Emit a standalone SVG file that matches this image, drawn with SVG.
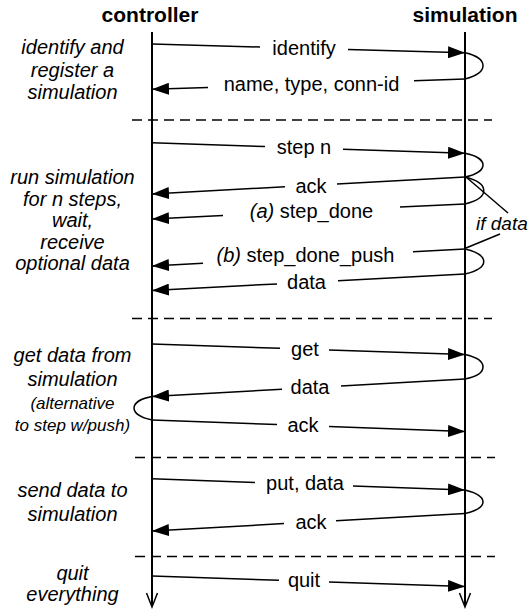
<svg xmlns="http://www.w3.org/2000/svg" width="529" height="610" viewBox="0 0 529 610">
  <style>
    .head { font-family: "Liberation Sans", Arial, sans-serif; font-weight: bold; font-size: 21px; fill: #000; text-anchor: middle; }
    .note { font-family: "Liberation Sans", Arial, sans-serif; font-style: italic; font-size: 20px; fill: #000; text-anchor: middle; }
    .small { font-size: 17px; }
    .msg { font-family: "Liberation Sans", Arial, sans-serif; font-size: 20px; fill: #000; text-anchor: middle; }
    .it { font-style: italic; }
    .life { stroke: #000; stroke-width: 2; fill: none; }
    .line { stroke: #000; stroke-width: 1.5; fill: none; }
    .arrow { stroke: #000; stroke-width: 1.5; fill: none; marker-end: url(#head); }
    .sep { stroke: #000; stroke-width: 1.5; stroke-dasharray: 10 6; fill: none; }
  </style>
  <defs>
    <marker id="head" markerUnits="userSpaceOnUse" viewBox="0 0 17 12" refX="17" refY="6" markerWidth="17" markerHeight="12" orient="auto">
      <path d="M0,0 L17,6 L0,12 z" fill="#000"/>
    </marker>
  </defs>

  <rect width="529" height="610" fill="#fff"/>

  <!-- lifelines -->
  <g id="controller">
    <text class="head" x="150" y="22">controller</text>
    <line class="life" x1="152" y1="32" x2="152" y2="606"/>
    <polyline class="line" points="146.5,593 152,607 157.5,593"/>
  </g>
  <g id="simulation">
    <text class="head" x="465" y="22">simulation</text>
    <line class="life" x1="465" y1="32" x2="465" y2="606"/>
    <polyline class="line" points="459.5,593 465,607 470.5,593"/>
  </g>

  <!-- phase separators -->
  <g id="separators">
    <line class="sep" x1="132" y1="120" x2="492" y2="120"/>
    <line class="sep" x1="132" y1="318.5" x2="492" y2="318.5"/>
    <line class="sep" x1="135" y1="457.5" x2="495" y2="457.5"/>
    <line class="sep" x1="135" y1="556.5" x2="495" y2="556.5"/>
  </g>

  <!-- phase descriptions -->
  <g id="phase-register">
    <text class="note" x="72.5" y="54">identify and</text>
    <text class="note" x="72.5" y="76.5">register a</text>
    <text class="note" x="72.5" y="99">simulation</text>
  </g>
  <g id="phase-step">
    <text class="note" x="72.5" y="184">run simulation</text>
    <text class="note" x="72.5" y="205.5">for n steps,</text>
    <text class="note" x="72.5" y="227">wait,</text>
    <text class="note" x="72.5" y="248.5">receive</text>
    <text class="note" x="72.5" y="270">optional data</text>
  </g>
  <g id="phase-get">
    <text class="note" x="72.5" y="362">get data from</text>
    <text class="note" x="72.5" y="386">simulation</text>
    <text class="note small" x="72.5" y="409">(alternative</text>
    <text class="note small" x="72.5" y="431">to step w/push)</text>
  </g>
  <g id="phase-put">
    <text class="note" x="72.5" y="497">send data to</text>
    <text class="note" x="72.5" y="521">simulation</text>
  </g>
  <g id="phase-quit">
    <text class="note" x="72.5" y="580">quit</text>
    <text class="note" x="72.5" y="601">everything</text>
  </g>

  <!-- messages -->
  <g id="connectors">
    <!-- identify -->
    <path class="line" d="M152,44 L260,47"/>
    <path class="arrow" d="M348,49.45 L465,52.7"/>
    <text class="msg" x="304" y="55">identify</text>
    <path class="line" d="M465,52.7 C489,58 489,73 465,79"/>
    <!-- name, type, conn-id -->
    <path class="line" d="M465,79 L414,80.7"/>
    <path class="arrow" d="M208,87.5 L152,89.3"/>
    <text class="msg" x="311.5" y="91">name, type, conn-id</text>

    <!-- step n -->
    <path class="line" d="M152,142.7 L265,146.5"/>
    <path class="arrow" d="M343,149.2 L465,153.3"/>
    <text class="msg" x="304" y="154">step n</text>
    <path class="line" d="M465,153.3 C489,158 489,172 465,177"/>
    <!-- ack -->
    <path class="line" d="M465,177 L337,183.95"/>
    <path class="arrow" d="M285,186.8 L152,194"/>
    <text class="msg" x="311" y="192.5">ack</text>
    <path class="line" d="M465,177 C490,183 490,198 465,204"/>
    <!-- (a) step_done -->
    <path class="line" d="M465,204 L400,207.1"/>
    <path class="arrow" d="M223,215.6 L152,219"/>
    <text class="msg" x="311.5" y="217.5"><tspan class="it">(a)</tspan> step_done</text>
    <!-- if data bracket -->
    <path class="line" d="M466,177 L508,213"/>
    <path class="line" d="M500,234 L466,248"/>
    <text class="note" x="476" y="230" style="text-anchor:start;font-size:19px">if data</text>
    <!-- (b) step_done_push -->
    <path class="line" d="M465,249 L413,251.8"/>
    <path class="arrow" d="M203,263.2 L152,266"/>
    <text class="msg" x="305.5" y="262"><tspan class="it">(b)</tspan> step_done_push</text>
    <path class="line" d="M465,249 C490,255 490,268 465,274"/>
    <!-- data -->
    <path class="line" d="M465,274 L338,280.7"/>
    <path class="arrow" d="M277,283.9 L152,290.5"/>
    <text class="msg" x="306.5" y="288.5">data</text>

    <!-- get -->
    <path class="line" d="M152,344 L280,348.3"/>
    <path class="arrow" d="M329,350 L465,354.6"/>
    <text class="msg" x="305" y="355.5">get</text>
    <path class="line" d="M465,354.6 C489,360 489,374 465,379"/>
    <!-- data -->
    <path class="line" d="M465,379 L341,385.9"/>
    <path class="arrow" d="M282,389.2 L152,396.5"/>
    <text class="msg" x="310" y="394">data</text>
    <path class="line" d="M152,396.5 C128,401 128,415 152,420"/>
    <!-- ack -->
    <path class="line" d="M152,420 L277,424.6"/>
    <path class="arrow" d="M329,426.6 L465,431.6"/>
    <text class="msg" x="303" y="432">ack</text>

    <!-- put, data -->
    <path class="line" d="M152,478.7 L255,482.4"/>
    <path class="arrow" d="M353,486 L465,490"/>
    <text class="msg" x="305" y="490">put, data</text>
    <path class="line" d="M465,490 C489,496 489,508 465,513.5"/>
    <!-- ack -->
    <path class="line" d="M465,513.5 L336,520.7"/>
    <path class="arrow" d="M284,523.6 L152,531"/>
    <text class="msg" x="311" y="528.5">ack</text>

    <!-- quit -->
    <path class="line" d="M152,576 L279,580.3"/>
    <path class="arrow" d="M329,581.9 L465,586.5"/>
    <text class="msg" x="304" y="587">quit</text>
  </g>
</svg>
